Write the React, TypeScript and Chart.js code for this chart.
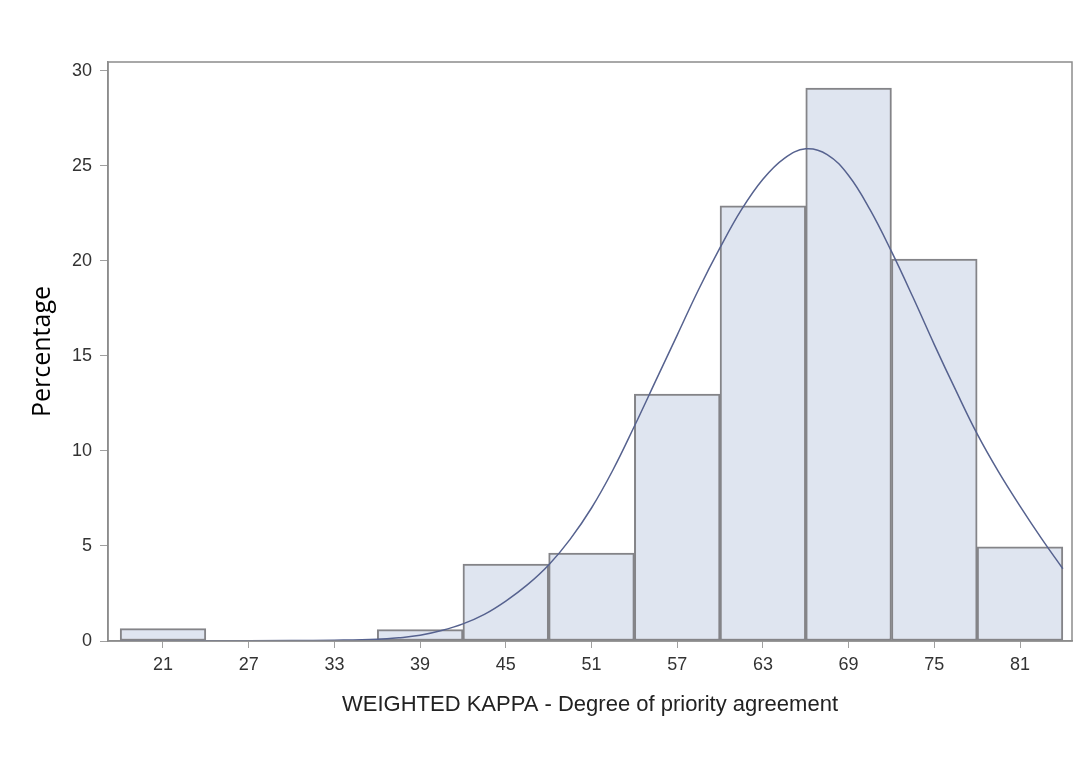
import React, { useEffect, useRef } from "react";
import { Chart, registerables } from "chart.js";

Chart.register(...registerables);

const binCenters = [21, 27, 33, 39, 45, 51, 57, 63, 69, 75, 81];
const binPercent = [0.65, 0, 0, 0.6, 4.05, 4.63, 13.0, 22.9, 29.1, 20.1, 4.95];
const curveX = [
  18, 24, 30, 33, 36, 37.5, 39, 40.5, 42, 43.5, 45, 46.5, 48, 49.5, 51, 52.5, 54, 55.5, 57, 58.5,
  60, 61.5, 63, 64.5, 66, 67.5, 69, 70.5, 72, 73.5, 75, 76.5, 78, 79.5, 81, 82.5, 84,
];
const curveY = [
  0, 0.01, 0.02, 0.04, 0.09, 0.17, 0.3, 0.55, 0.9, 1.4, 2.1, 2.95, 4.0, 5.35, 7.0, 9.0, 11.3, 13.7, 16.1, 18.5,
  20.7, 22.7, 24.3, 25.4, 25.9, 25.6, 24.5, 22.7, 20.5, 18.1, 15.6, 13.2, 10.9, 8.9, 7.1, 5.4, 3.8,
];
const xTicks = [21, 27, 33, 39, 45, 51, 57, 63, 69, 75, 81];
const yTicks = [0, 5, 10, 15, 20, 25, 30];

const frame = {
  id: "frame",
  afterDraw(chart: any) {
    const { ctx, chartArea } = chart;
    ctx.save();
    ctx.strokeStyle = "#8c8c8c";
    ctx.lineWidth = 1.5;
    ctx.strokeRect(chartArea.left, chartArea.top, chartArea.right - chartArea.left, chartArea.bottom - chartArea.top);
    ctx.restore();
  },
};

export default function App() {
  const ref = useRef<HTMLCanvasElement | null>(null);
  useEffect(() => {
    const canvas = ref.current;
    if (!canvas) return;
    const tickFont = { family: "'Liberation Sans', Arial, sans-serif", size: 18 };
    const chart = new Chart(canvas, {
      type: "bar",
      data: {
        datasets: [
          {
            type: "line",
            data: curveX.map((x, i) => ({ x, y: curveY[i] })),
            borderColor: "#56628f",
            borderWidth: 1.5,
            pointRadius: 0,
            tension: 0.4,
            fill: false,
            order: 0,
          } as any,
          {
            type: "bar",
            data: binCenters.map((x, i) => ({ x, y: binPercent[i] })),
            backgroundColor: "#dfe5f0",
            borderColor: "#848488",
            borderWidth: 2,
            borderSkipped: false,
            barPercentage: 1,
            categoryPercentage: 1,
            order: 1,
          } as any,
        ],
      },
      options: {
        animation: false,
        responsive: false,
        layout: { padding: { left: 0, top: 62, right: 19, bottom: 0 } },
        plugins: { legend: { display: false }, tooltip: { enabled: false } },
        scales: {
          x: {
            type: "linear",
            offset: false,
            min: 17.15,
            max: 84.64,
            afterBuildTicks: (s: any) => {
              s.ticks = xTicks.map((v) => ({ value: v }));
            },
            afterFit: (s: any) => {
              s.height = 137;
            },
            grid: { offset: false, drawOnChartArea: false, drawTicks: true, tickLength: 7, color: "#a0a0a0" },
            border: { display: true, color: "#8c8c8c", width: 1.5 },
            ticks: { font: tickFont, color: "#333333", padding: 6, maxRotation: 0, autoSkip: false },
            title: {
              display: true,
              text: "WEIGHTED KAPPA - Degree of priority agreement",
              font: { family: "'Liberation Sans', Arial, sans-serif", size: 22 },
              color: "#222222",
              padding: { top: 0, bottom: 60 },
            },
          },
          y: {
            type: "linear",
            min: 0,
            max: 30.47,
            afterBuildTicks: (s: any) => {
              s.ticks = yTicks.map((v) => ({ value: v }));
            },
            afterFit: (s: any) => {
              s.width = 108;
            },
            grid: { drawOnChartArea: false, drawTicks: true, tickLength: 8, color: "#a0a0a0" },
            border: { display: true, color: "#8c8c8c", width: 1.5 },
            ticks: { font: tickFont, color: "#333333", padding: 8 },
            title: {
              display: true,
              text: "Percentage",
              font: { family: "'Open Sans', 'Noto Sans', sans-serif", size: 25 },
              color: "#000000",
              padding: { top: 28, bottom: 0 },
            },
          },
        },
      },
      plugins: [frame],
    });
    return () => chart.destroy();
  }, []);
  return (
    <div style={{ position: "absolute", left: 0, top: 0, width: 1091, height: 778, background: "#ffffff" }}>
      <canvas ref={ref} width={1091} height={778} />
    </div>
  );
}
